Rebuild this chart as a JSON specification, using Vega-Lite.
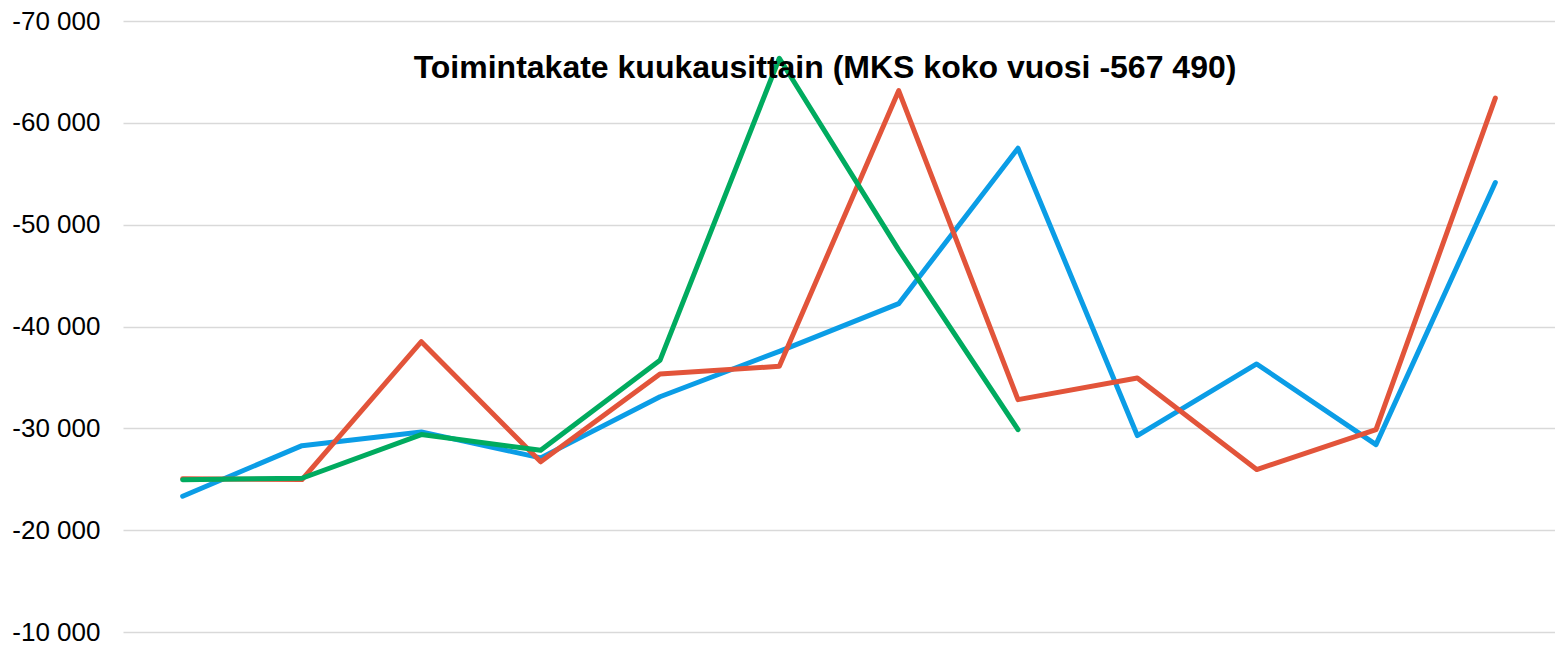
{
  "$schema": "https://vega.github.io/schema/vega-lite/v6.json",
  "autosize": {"type": "none"},
  "width": 1432,
  "height": 611,
  "padding": {"left": 123, "top": 21, "right": 0, "bottom": 14},
  "background": "white",
  "title": {
    "text": "Toimintakate kuukausittain (MKS koko vuosi -567 490)",
    "font": "Liberation Sans",
    "fontSize": 32,
    "fontWeight": "bold",
    "color": "black",
    "anchor": "middle",
    "baseline": "alphabetic",
    "offset": 0,
    "dx": -14,
    "dy": 102
  },
  "data": {
    "values": [
      {"kk": "tammi", "sarja": "2021", "arvo": -23330},
      {"kk": "helmi", "sarja": "2021", "arvo": -28300},
      {"kk": "maalis", "sarja": "2021", "arvo": -29650},
      {"kk": "huhti", "sarja": "2021", "arvo": -27100},
      {"kk": "touko", "sarja": "2021", "arvo": -33100},
      {"kk": "kesä", "sarja": "2021", "arvo": -37560},
      {"kk": "heinä", "sarja": "2021", "arvo": -42240},
      {"kk": "elo", "sarja": "2021", "arvo": -57510},
      {"kk": "syys", "sarja": "2021", "arvo": -29290},
      {"kk": "loka", "sarja": "2021", "arvo": -36320},
      {"kk": "marras", "sarja": "2021", "arvo": -28400},
      {"kk": "joulu", "sarja": "2021", "arvo": -54140},
      {"kk": "tammi", "sarja": "2022", "arvo": -25040},
      {"kk": "helmi", "sarja": "2022", "arvo": -24970},
      {"kk": "maalis", "sarja": "2022", "arvo": -38510},
      {"kk": "huhti", "sarja": "2022", "arvo": -26710},
      {"kk": "touko", "sarja": "2022", "arvo": -35340},
      {"kk": "kesä", "sarja": "2022", "arvo": -36090},
      {"kk": "heinä", "sarja": "2022", "arvo": -63160},
      {"kk": "elo", "sarja": "2022", "arvo": -32820},
      {"kk": "syys", "sarja": "2022", "arvo": -34950},
      {"kk": "loka", "sarja": "2022", "arvo": -25950},
      {"kk": "marras", "sarja": "2022", "arvo": -29880},
      {"kk": "joulu", "sarja": "2022", "arvo": -62420},
      {"kk": "tammi", "sarja": "2023", "arvo": -24950},
      {"kk": "helmi", "sarja": "2023", "arvo": -25100},
      {"kk": "maalis", "sarja": "2023", "arvo": -29390},
      {"kk": "huhti", "sarja": "2023", "arvo": -27850},
      {"kk": "touko", "sarja": "2023", "arvo": -36680},
      {"kk": "kesä", "sarja": "2023", "arvo": -66340},
      {"kk": "heinä", "sarja": "2023", "arvo": -47530},
      {"kk": "elo", "sarja": "2023", "arvo": -29880}
    ]
  },
  "mark": {"type": "line", "strokeWidth": 5, "strokeCap": "round", "strokeJoin": "round"},
  "encoding": {
    "x": {
      "field": "kk",
      "type": "ordinal",
      "sort": ["tammi", "helmi", "maalis", "huhti", "touko", "kesä", "heinä", "elo", "syys", "loka", "marras", "joulu"],
      "scale": {"type": "point", "padding": 0.5},
      "axis": null
    },
    "y": {
      "field": "arvo",
      "type": "quantitative",
      "scale": {"domain": [-70000, -10000], "reverse": true, "nice": false, "zero": false},
      "axis": {
        "title": null,
        "values": [-70000, -60000, -50000, -40000, -30000, -20000, -10000],
        "labelExpr": "'-' + replace(format(abs(datum.value), ','), ',', ' ')",
        "labelFont": "Liberation Sans",
        "labelFontSize": 26,
        "labelColor": "black",
        "labelPadding": 23,
        "ticks": false,
        "domain": false,
        "grid": true,
        "gridColor": "#d9d9d9",
        "gridWidth": 1.5
      }
    },
    "color": {
      "field": "sarja",
      "type": "nominal",
      "scale": {"domain": ["2021", "2022", "2023"], "range": ["#0b9de6", "#e2543a", "#00ab5f"]},
      "legend": null
    },
    "order": {"field": "sarja"}
  },
  "config": {"view": {"stroke": null}}
}
